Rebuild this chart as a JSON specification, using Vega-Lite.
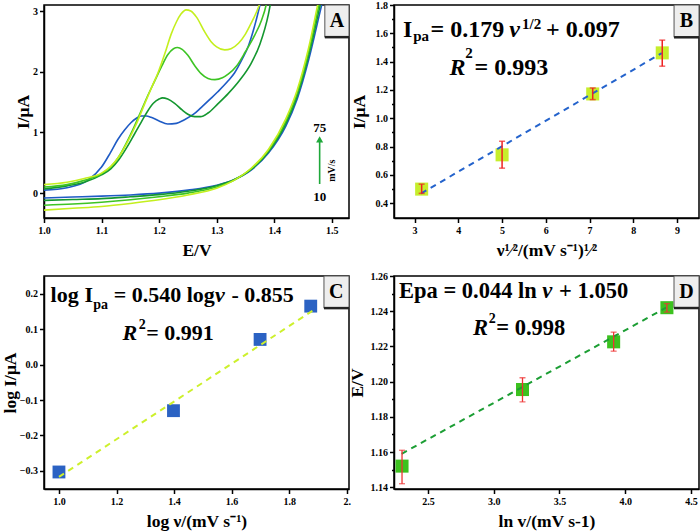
{
  "$schema": "https://vega.github.io/schema/vega-lite/v6.json",
  "background": "white",
  "padding": {"left": 0, "top": -1, "right": 0, "bottom": 0},
  "columns": 2,
  "bounds": "flush",
  "spacing": {"row": 58, "column": 45},
  "config": {
    "font": "Liberation Serif",
    "view": {"stroke": "#000", "strokeWidth": 1.5},
    "axis": {"labelFont": "Liberation Serif", "labelFontWeight": "bold", "labelFontSize": 10, "labelColor": "#000", "titleFont": "Liberation Serif", "titleFontWeight": "bold", "titleFontSize": 17.5, "titleColor": "#000", "domainColor": "#000", "domainWidth": 1.5, "tickColor": "#000", "tickWidth": 1.5, "tickSize": 4.5, "grid": false, "labelPadding": 2, "labelFlush": false, "labelOverlap": false},
    "axisX": {"titlePadding": 6, "labelPadding": 3},
    "text": {"font": "Liberation Serif", "fontWeight": "bold", "color": "#000"}
  },
  "datasets": {
    "cv": [
      {"rate":"10","branch":"f","x":1.0,"y":0.05},{"rate":"10","branch":"f","x":1.04,"y":0.09},{"rate":"10","branch":"f","x":1.076,"y":0.21},{"rate":"10","branch":"f","x":1.1,"y":0.43},{"rate":"10","branch":"f","x":1.115,"y":0.66},{"rate":"10","branch":"f","x":1.128,"y":0.88},{"rate":"10","branch":"f","x":1.14,"y":1.04},{"rate":"10","branch":"f","x":1.151,"y":1.16},{"rate":"10","branch":"f","x":1.16,"y":1.23},{"rate":"10","branch":"f","x":1.169,"y":1.27},{"rate":"10","branch":"f","x":1.178,"y":1.27},{"rate":"10","branch":"f","x":1.186,"y":1.25},{"rate":"10","branch":"f","x":1.2,"y":1.19},{"rate":"10","branch":"f","x":1.215,"y":1.14},{"rate":"10","branch":"f","x":1.23,"y":1.15},{"rate":"10","branch":"f","x":1.244,"y":1.21},{"rate":"10","branch":"f","x":1.26,"y":1.3},{"rate":"10","branch":"f","x":1.273,"y":1.41},{"rate":"10","branch":"f","x":1.29,"y":1.56},{"rate":"10","branch":"f","x":1.302,"y":1.67},{"rate":"10","branch":"f","x":1.32,"y":1.85},{"rate":"10","branch":"f","x":1.331,"y":1.98},{"rate":"10","branch":"f","x":1.345,"y":2.22},{"rate":"10","branch":"f","x":1.355,"y":2.42},{"rate":"10","branch":"f","x":1.365,"y":2.72},{"rate":"10","branch":"f","x":1.374,"y":3.05},{"rate":"10","branch":"f","x":1.38,"y":3.3},
      {"rate":"25","branch":"f","x":1.0,"y":0.07},{"rate":"25","branch":"f","x":1.04,"y":0.12},{"rate":"25","branch":"f","x":1.07,"y":0.18},{"rate":"25","branch":"f","x":1.1,"y":0.3},{"rate":"25","branch":"f","x":1.116,"y":0.4},{"rate":"25","branch":"f","x":1.13,"y":0.55},{"rate":"25","branch":"f","x":1.145,"y":0.77},{"rate":"25","branch":"f","x":1.157,"y":0.97},{"rate":"25","branch":"f","x":1.169,"y":1.17},{"rate":"25","branch":"f","x":1.18,"y":1.35},{"rate":"25","branch":"f","x":1.19,"y":1.48},{"rate":"25","branch":"f","x":1.2,"y":1.55},{"rate":"25","branch":"f","x":1.206,"y":1.57},{"rate":"25","branch":"f","x":1.215,"y":1.55},{"rate":"25","branch":"f","x":1.227,"y":1.48},{"rate":"25","branch":"f","x":1.24,"y":1.37},{"rate":"25","branch":"f","x":1.25,"y":1.3},{"rate":"25","branch":"f","x":1.262,"y":1.26},{"rate":"25","branch":"f","x":1.272,"y":1.26},{"rate":"25","branch":"f","x":1.285,"y":1.32},{"rate":"25","branch":"f","x":1.302,"y":1.47},{"rate":"25","branch":"f","x":1.32,"y":1.64},{"rate":"25","branch":"f","x":1.34,"y":1.86},{"rate":"25","branch":"f","x":1.36,"y":2.14},{"rate":"25","branch":"f","x":1.375,"y":2.45},{"rate":"25","branch":"f","x":1.39,"y":2.95},{"rate":"25","branch":"f","x":1.395,"y":3.2},
      {"rate":"50","branch":"f","x":1.0,"y":0.1},{"rate":"50","branch":"f","x":1.04,"y":0.14},{"rate":"50","branch":"f","x":1.07,"y":0.21},{"rate":"50","branch":"f","x":1.1,"y":0.32},{"rate":"50","branch":"f","x":1.116,"y":0.43},{"rate":"50","branch":"f","x":1.13,"y":0.6},{"rate":"50","branch":"f","x":1.145,"y":0.86},{"rate":"50","branch":"f","x":1.157,"y":1.1},{"rate":"50","branch":"f","x":1.169,"y":1.36},{"rate":"50","branch":"f","x":1.18,"y":1.6},{"rate":"50","branch":"f","x":1.192,"y":1.84},{"rate":"50","branch":"f","x":1.205,"y":2.1},{"rate":"50","branch":"f","x":1.215,"y":2.28},{"rate":"50","branch":"f","x":1.225,"y":2.38},{"rate":"50","branch":"f","x":1.232,"y":2.4},{"rate":"50","branch":"f","x":1.24,"y":2.37},{"rate":"50","branch":"f","x":1.25,"y":2.27},{"rate":"50","branch":"f","x":1.262,"y":2.1},{"rate":"50","branch":"f","x":1.273,"y":1.97},{"rate":"50","branch":"f","x":1.285,"y":1.89},{"rate":"50","branch":"f","x":1.297,"y":1.87},{"rate":"50","branch":"f","x":1.31,"y":1.9},{"rate":"50","branch":"f","x":1.32,"y":1.96},{"rate":"50","branch":"f","x":1.335,"y":2.1},{"rate":"50","branch":"f","x":1.35,"y":2.33},{"rate":"50","branch":"f","x":1.366,"y":2.6},{"rate":"50","branch":"f","x":1.378,"y":2.85},{"rate":"50","branch":"f","x":1.386,"y":3.1},{"rate":"50","branch":"f","x":1.39,"y":3.3},
      {"rate":"75","branch":"f","x":1.0,"y":0.14},{"rate":"75","branch":"f","x":1.04,"y":0.18},{"rate":"75","branch":"f","x":1.07,"y":0.24},{"rate":"75","branch":"f","x":1.1,"y":0.33},{"rate":"75","branch":"f","x":1.116,"y":0.44},{"rate":"75","branch":"f","x":1.13,"y":0.6},{"rate":"75","branch":"f","x":1.145,"y":0.84},{"rate":"75","branch":"f","x":1.16,"y":1.13},{"rate":"75","branch":"f","x":1.174,"y":1.45},{"rate":"75","branch":"f","x":1.186,"y":1.72},{"rate":"75","branch":"f","x":1.198,"y":1.98},{"rate":"75","branch":"f","x":1.21,"y":2.3},{"rate":"75","branch":"f","x":1.221,"y":2.62},{"rate":"75","branch":"f","x":1.23,"y":2.82},{"rate":"75","branch":"f","x":1.238,"y":2.95},{"rate":"75","branch":"f","x":1.247,"y":3.02},{"rate":"75","branch":"f","x":1.255,"y":3.0},{"rate":"75","branch":"f","x":1.265,"y":2.9},{"rate":"75","branch":"f","x":1.279,"y":2.66},{"rate":"75","branch":"f","x":1.29,"y":2.5},{"rate":"75","branch":"f","x":1.3,"y":2.41},{"rate":"75","branch":"f","x":1.314,"y":2.36},{"rate":"75","branch":"f","x":1.325,"y":2.38},{"rate":"75","branch":"f","x":1.338,"y":2.47},{"rate":"75","branch":"f","x":1.35,"y":2.62},{"rate":"75","branch":"f","x":1.36,"y":2.8},{"rate":"75","branch":"f","x":1.37,"y":3.0},{"rate":"75","branch":"f","x":1.376,"y":3.15},
      {"rate":"10","branch":"r","x":1.0,"y":-0.08},{"rate":"10","branch":"r","x":1.05,"y":-0.065},{"rate":"10","branch":"r","x":1.1,"y":-0.05},{"rate":"10","branch":"r","x":1.15,"y":-0.03},{"rate":"10","branch":"r","x":1.2,"y":0.0},{"rate":"10","branch":"r","x":1.25,"y":0.05},{"rate":"10","branch":"r","x":1.3,"y":0.13},{"rate":"10","branch":"r","x":1.33,"y":0.22},{"rate":"10","branch":"r","x":1.36,"y":0.38},{"rate":"10","branch":"r","x":1.39,"y":0.66},{"rate":"10","branch":"r","x":1.42,"y":1.1},{"rate":"10","branch":"r","x":1.44,"y":1.55},{"rate":"10","branch":"r","x":1.46,"y":2.2},{"rate":"10","branch":"r","x":1.48,"y":3.0},{"rate":"10","branch":"r","x":1.5,"y":3.8},
      {"rate":"25","branch":"r","x":1.0,"y":-0.12},{"rate":"25","branch":"r","x":1.05,"y":-0.105},{"rate":"25","branch":"r","x":1.1,"y":-0.09},{"rate":"25","branch":"r","x":1.15,"y":-0.06},{"rate":"25","branch":"r","x":1.2,"y":-0.025},{"rate":"25","branch":"r","x":1.25,"y":0.03},{"rate":"25","branch":"r","x":1.3,"y":0.12},{"rate":"25","branch":"r","x":1.33,"y":0.22},{"rate":"25","branch":"r","x":1.36,"y":0.39},{"rate":"25","branch":"r","x":1.39,"y":0.68},{"rate":"25","branch":"r","x":1.42,"y":1.14},{"rate":"25","branch":"r","x":1.44,"y":1.6},{"rate":"25","branch":"r","x":1.46,"y":2.27},{"rate":"25","branch":"r","x":1.48,"y":3.1},{"rate":"25","branch":"r","x":1.5,"y":3.9},
      {"rate":"50","branch":"r","x":1.0,"y":-0.2},{"rate":"50","branch":"r","x":1.05,"y":-0.18},{"rate":"50","branch":"r","x":1.1,"y":-0.15},{"rate":"50","branch":"r","x":1.15,"y":-0.11},{"rate":"50","branch":"r","x":1.2,"y":-0.06},{"rate":"50","branch":"r","x":1.25,"y":0.0},{"rate":"50","branch":"r","x":1.3,"y":0.1},{"rate":"50","branch":"r","x":1.33,"y":0.21},{"rate":"50","branch":"r","x":1.36,"y":0.4},{"rate":"50","branch":"r","x":1.39,"y":0.7},{"rate":"50","branch":"r","x":1.42,"y":1.18},{"rate":"50","branch":"r","x":1.44,"y":1.65},{"rate":"50","branch":"r","x":1.46,"y":2.33},{"rate":"50","branch":"r","x":1.48,"y":3.2},{"rate":"50","branch":"r","x":1.5,"y":4.0},
      {"rate":"75","branch":"r","x":1.0,"y":-0.28},{"rate":"75","branch":"r","x":1.05,"y":-0.25},{"rate":"75","branch":"r","x":1.1,"y":-0.22},{"rate":"75","branch":"r","x":1.15,"y":-0.17},{"rate":"75","branch":"r","x":1.2,"y":-0.11},{"rate":"75","branch":"r","x":1.25,"y":-0.03},{"rate":"75","branch":"r","x":1.3,"y":0.08},{"rate":"75","branch":"r","x":1.33,"y":0.21},{"rate":"75","branch":"r","x":1.36,"y":0.41},{"rate":"75","branch":"r","x":1.39,"y":0.72},{"rate":"75","branch":"r","x":1.42,"y":1.22},{"rate":"75","branch":"r","x":1.44,"y":1.7},{"rate":"75","branch":"r","x":1.46,"y":2.4},{"rate":"75","branch":"r","x":1.48,"y":3.3},{"rate":"75","branch":"r","x":1.5,"y":4.1}
    ],
    "bpts": [
      {"x":3.162,"y":0.5,"lo":0.47,"hi":0.535},
      {"x":5.0,"y":0.742,"lo":0.648,"hi":0.838},
      {"x":7.071,"y":1.172,"lo":1.132,"hi":1.214},
      {"x":8.66,"y":1.462,"lo":1.368,"hi":1.552}
    ],
    "dpts": [
      {"x":2.303,"y":1.152,"lo":1.142,"hi":1.161},
      {"x":3.219,"y":1.1955,"lo":1.1885,"hi":1.2022},
      {"x":3.912,"y":1.2226,"lo":1.2173,"hi":1.2281},
      {"x":4.317,"y":1.242,"lo":1.2395,"hi":1.2443}
    ]
  },
  "concat": [
    {
      "width": 305, "height": 213,
      "layer": [
        {
          "data": {"name": "cv"},
          "mark": {"type": "line", "strokeWidth": 1.6, "clip": true, "interpolate": "monotone"},
          "encoding": {
            "x": {"field": "x", "type": "quantitative", "scale": {"domain": [1.0, 1.53], "nice": false, "zero": false},
                  "axis": {"title": "E/V", "values": [1.0,1.05,1.1,1.15,1.2,1.25,1.3,1.35,1.4,1.45,1.5], "format": ".1f", "labelOverlap": false,
                           "labelExpr": "abs(datum.value*10-round(datum.value*10))<1e-6 ? datum.label : ''",
                           "tickSize": {"condition": {"test": "abs(datum.value*10-round(datum.value*10))<1e-6", "value": 4.5}, "value": 2.5}}},
            "y": {"field": "y", "type": "quantitative", "scale": {"domain": [-0.41, 3.1], "nice": false, "zero": false},
                  "axis": {"title": "I/μA", "values": [0,0.5,1,1.5,2,2.5,3], "format": ".0f", "labelOverlap": false,
                           "labelExpr": "abs(datum.value-round(datum.value))<1e-6 ? datum.label : ''",
                           "tickSize": {"condition": {"test": "abs(datum.value-round(datum.value))<1e-6", "value": 4.5}, "value": 2.5},
                           "minExtent": 10, "maxExtent": 10, "titlePadding": 1.5}},
            "color": {"field": "rate", "type": "nominal", "scale": {"domain": ["10","25","50","75"], "range": ["#1f5bc5","#14972f","#3dc424","#c4ef1e"]}, "legend": null},
            "detail": {"field": "branch"}
          }
        },
        {
          "data": {"values": [{"x": 1.479, "y": 0.15, "y2": 0.86}]},
          "mark": {"type": "rule", "color": "#1fa83a", "strokeWidth": 1.6},
          "encoding": {"x": {"field": "x", "type": "quantitative"}, "y": {"field": "y", "type": "quantitative"}, "y2": {"field": "y2"}}
        },
        {
          "data": {"values": [{"x": 1.479, "y": 0.885}]},
          "mark": {"type": "point", "shape": "triangle-up", "size": 50, "filled": true, "color": "#1fa83a", "opacity": 1},
          "encoding": {"x": {"field": "x", "type": "quantitative"}, "y": {"field": "y", "type": "quantitative"}}
        },
        {
          "data": {"values": [{"x": 1.479, "y": 1.08, "t": "75"}, {"x": 1.479, "y": -0.06, "t": "10"}]},
          "mark": {"type": "text", "fontSize": 13, "align": "center", "baseline": "middle"},
          "encoding": {"x": {"field": "x", "type": "quantitative"}, "y": {"field": "y", "type": "quantitative"}, "text": {"field": "t"}}
        },
        {
          "data": {"values": [{"x": 1.5, "y": 0.37, "t": "mV/s"}]},
          "mark": {"type": "text", "fontSize": 10, "align": "center", "baseline": "middle", "angle": 270},
          "encoding": {"x": {"field": "x", "type": "quantitative"}, "y": {"field": "y", "type": "quantitative"}, "text": {"field": "t"}}
        },
        {
          "data": {"values": [{"x": 1.488, "x2": 1.53, "y": 2.57, "y2": 3.1}]},
          "mark": {"type": "rect", "fill": "#eeeeee", "stroke": "#555", "strokeWidth": 1},
          "encoding": {"x": {"field": "x", "type": "quantitative"}, "x2": {"field": "x2"}, "y": {"field": "y", "type": "quantitative"}, "y2": {"field": "y2"}}
        },
        {
          "data": {"values": [{"x": 1.488, "x2": 1.53, "y": 2.57}]},
          "mark": {"type": "rule", "color": "#222", "strokeWidth": 2.5},
          "encoding": {"x": {"field": "x", "type": "quantitative"}, "x2": {"field": "x2"}, "y": {"field": "y", "type": "quantitative"}}
        },
        {
          "data": {"values": [{"x": 1.509, "y": 2.835, "t": "A"}]},
          "mark": {"type": "text", "fontSize": 20, "align": "center", "baseline": "middle"},
          "encoding": {"x": {"field": "x", "type": "quantitative"}, "y": {"field": "y", "type": "quantitative"}, "text": {"field": "t"}}
        }
      ]
    },
    {
      "width": 305, "height": 213,
      "resolve": {"axis": {"y": "independent"}},
      "layer": [
        {
          "data": {"name": "bpts"},
          "mark": {"type": "square", "size": 170, "filled": true, "color": "#c6ee2c", "opacity": 1},
          "encoding": {
            "x": {"field": "x", "type": "quantitative", "scale": {"domain": [2.53, 9.5], "nice": false, "zero": false},
                  "axis": {"title": "ν¹⁄²/(mV s⁻¹)¹⁄²", "values": [3,3.5,4,4.5,5,5.5,6,6.5,7,7.5,8,8.5,9], "format": ".0f", "labelOverlap": false,
                           "labelExpr": "abs(datum.value-round(datum.value))<1e-6 ? datum.label : ''",
                           "tickSize": {"condition": {"test": "abs(datum.value-round(datum.value))<1e-6", "value": 4.5}, "value": 2.5}}},
            "y": {"field": "y", "type": "quantitative", "scale": {"domain": [0.296, 1.8], "nice": false, "zero": false},
                  "axis": {"title": "I/μA", "orient": "left", "values": [0.4,0.6,0.8,1.0,1.2,1.4,1.6,1.8], "format": ".1f", "labelOverlap": false,
                           "minExtent": 19, "maxExtent": 19, "titlePadding": 7}}
          }
        },
        {
          "data": {"values": [{"x": 3.15, "y": 0.47}, {"x": 8.65, "y": 1.46}]},
          "mark": {"type": "line", "color": "#2463cc", "strokeWidth": 2, "strokeDash": [6, 5]},
          "encoding": {"x": {"field": "x", "type": "quantitative"},
                       "y": {"field": "y", "type": "quantitative", "axis": {"orient": "left", "values": [0.5,0.7,0.9,1.1,1.3,1.5,1.7], "labels": false, "domain": false, "tickSize": 2.5, "title": null, "minExtent": 0}}}
        },
        {
          "data": {"name": "bpts"},
          "mark": {"type": "rule", "color": "#ee2222", "strokeWidth": 1.5},
          "encoding": {"x": {"field": "x", "type": "quantitative"}, "y": {"field": "lo", "type": "quantitative", "axis": null}, "y2": {"field": "hi"}}
        },
        {
          "data": {"name": "bpts"},
          "mark": {"type": "tick", "orient": "horizontal", "color": "#ee2222", "size": 6, "thickness": 1.5},
          "encoding": {"x": {"field": "x", "type": "quantitative"}, "y": {"field": "lo", "type": "quantitative", "axis": null}}
        },
        {
          "data": {"name": "bpts"},
          "mark": {"type": "tick", "orient": "horizontal", "color": "#ee2222", "size": 6, "thickness": 1.5},
          "encoding": {"x": {"field": "x", "type": "quantitative"}, "y": {"field": "hi", "type": "quantitative", "axis": null}}
        },
        {
          "data": {"values": [{"x": 8.93, "x2": 9.5, "y": 1.572, "y2": 1.8}]},
          "mark": {"type": "rect", "fill": "#eeeeee", "stroke": "#555", "strokeWidth": 1},
          "encoding": {"x": {"field": "x", "type": "quantitative"}, "x2": {"field": "x2"}, "y": {"field": "y", "type": "quantitative", "axis": null}, "y2": {"field": "y2"}}
        },
        {
          "data": {"values": [{"x": 8.93, "x2": 9.5, "y": 1.572}]},
          "mark": {"type": "rule", "color": "#222", "strokeWidth": 2.5},
          "encoding": {"x": {"field": "x", "type": "quantitative"}, "x2": {"field": "x2"}, "y": {"field": "y", "type": "quantitative", "axis": null}}
        },
        {
          "data": {"values": [{"x": 9.215, "y": 1.689, "t": "B"}]},
          "mark": {"type": "text", "fontSize": 20, "align": "center", "baseline": "middle"},
          "encoding": {"x": {"field": "x", "type": "quantitative"}, "y": {"field": "y", "type": "quantitative", "axis": null}, "text": {"field": "t"}}
        },
        {
          "data": {"values": [{"x": 2.735, "y": 1.572, "t": "I"}, {"x": 3.365, "y": 1.572, "t": "= 0.179"}, {"x": 6.005, "y": 1.572, "t": "+ 0.097"}, {"x": 4.37, "y": 1.308, "t": "= 0.993"}]},
          "mark": {"type": "text", "fontSize": 24, "align": "left", "baseline": "alphabetic"},
          "encoding": {"x": {"field": "x", "type": "quantitative"}, "y": {"field": "y", "type": "quantitative", "axis": null}, "text": {"field": "t"}}
        },
        {
          "data": {"values": [{"x": 5.162, "y": 1.572, "t": "ν"}, {"x": 3.799, "y": 1.308, "t": "R"}]},
          "mark": {"type": "text", "fontSize": 24, "fontStyle": "italic", "align": "left", "baseline": "alphabetic"},
          "encoding": {"x": {"field": "x", "type": "quantitative"}, "y": {"field": "y", "type": "quantitative", "axis": null}, "text": {"field": "t"}}
        },
        {
          "data": {"values": [{"x": 2.97, "y": 1.544, "t": "pa"}, {"x": 5.457, "y": 1.629, "t": "1/2"}, {"x": 4.158, "y": 1.423, "t": "2"}]},
          "mark": {"type": "text", "fontSize": 15, "align": "left", "baseline": "alphabetic"},
          "encoding": {"x": {"field": "x", "type": "quantitative"}, "y": {"field": "y", "type": "quantitative", "axis": null}, "text": {"field": "t"}}
        }
      ]
    },
    {
      "width": 305, "height": 213,
      "layer": [
        {
          "data": {"values": [{"x": 1.0, "y": -0.303}, {"x": 1.398, "y": -0.13}, {"x": 1.699, "y": 0.071}, {"x": 1.875, "y": 0.165}]},
          "mark": {"type": "square", "size": 165, "filled": true, "color": "#2b62c3", "opacity": 1},
          "encoding": {
            "x": {"field": "x", "type": "quantitative", "scale": {"domain": [0.948, 2.008], "nice": false, "zero": false},
                  "axis": {"title": "log ν/(mV s⁻¹)", "values": [1.0,1.1,1.2,1.3,1.4,1.5,1.6,1.7,1.8,1.9,2.0], "format": ".1f", "labelOverlap": false,
                           "labelExpr": "datum.value > 1.99 ? '2.' : (abs(datum.value*5-round(datum.value*5))<1e-6 ? datum.label : '')",
                           "tickSize": {"condition": {"test": "abs(datum.value*5-round(datum.value*5))<1e-6", "value": 4.5}, "value": 2.5}}},
            "y": {"field": "y", "type": "quantitative", "scale": {"domain": [-0.351, 0.25], "nice": false, "zero": false},
                  "axis": {"title": "log I/μA", "values": [-0.3,-0.25,-0.2,-0.15,-0.1,-0.05,0,0.05,0.1,0.15,0.2], "format": ".1f", "labelOverlap": false,
                           "labelExpr": "abs(datum.value*10-round(datum.value*10))<1e-6 ? datum.label : ''",
                           "tickSize": {"condition": {"test": "abs(datum.value*10-round(datum.value*10))<1e-6", "value": 4.5}, "value": 2.5},
                           "minExtent": 25, "maxExtent": 25, "titlePadding": 0}}
          }
        },
        {
          "data": {"values": [{"x": 1.0, "y": -0.317}, {"x": 1.887, "y": 0.155}]},
          "mark": {"type": "line", "color": "#cdf02c", "strokeWidth": 2, "strokeDash": [6, 5]},
          "encoding": {"x": {"field": "x", "type": "quantitative"}, "y": {"field": "y", "type": "quantitative"}}
        },
        {
          "data": {"values": [{"x": 1.921, "x2": 2.008, "y": 0.1594, "y2": 0.25}]},
          "mark": {"type": "rect", "fill": "#eeeeee", "stroke": "#555", "strokeWidth": 1},
          "encoding": {"x": {"field": "x", "type": "quantitative"}, "x2": {"field": "x2"}, "y": {"field": "y", "type": "quantitative"}, "y2": {"field": "y2"}}
        },
        {
          "data": {"values": [{"x": 1.921, "x2": 2.008, "y": 0.1594}]},
          "mark": {"type": "rule", "color": "#222", "strokeWidth": 2.5},
          "encoding": {"x": {"field": "x", "type": "quantitative"}, "x2": {"field": "x2"}, "y": {"field": "y", "type": "quantitative"}}
        },
        {
          "data": {"values": [{"x": 1.964, "y": 0.2048, "t": "C"}]},
          "mark": {"type": "text", "fontSize": 20, "align": "center", "baseline": "middle"},
          "encoding": {"x": {"field": "x", "type": "quantitative"}, "y": {"field": "y", "type": "quantitative"}, "text": {"field": "t"}}
        },
        {
          "data": {"values": [{"x": 0.971, "y": 0.1765, "t": "log"}, {"x": 1.089, "y": 0.1765, "t": "I"}, {"x": 1.19, "y": 0.1765, "t": "= 0.540 log"}, {"x": 1.5997, "y": 0.1765, "t": "- 0.855"}, {"x": 1.303, "y": 0.0707, "t": "= 0.991"}]},
          "mark": {"type": "text", "fontSize": 22, "align": "left", "baseline": "alphabetic"},
          "encoding": {"x": {"field": "x", "type": "quantitative"}, "y": {"field": "y", "type": "quantitative"}, "text": {"field": "t"}}
        },
        {
          "data": {"values": [{"x": 1.542, "y": 0.1765, "t": "ν"}, {"x": 1.2205, "y": 0.0707, "t": "R"}]},
          "mark": {"type": "text", "fontSize": 22, "fontStyle": "italic", "align": "left", "baseline": "alphabetic"},
          "encoding": {"x": {"field": "x", "type": "quantitative"}, "y": {"field": "y", "type": "quantitative"}, "text": {"field": "t"}}
        },
        {
          "data": {"values": [{"x": 1.119, "y": 0.1558, "t": "pa"}, {"x": 1.2776, "y": 0.1, "t": "2"}]},
          "mark": {"type": "text", "fontSize": 14, "align": "left", "baseline": "alphabetic"},
          "encoding": {"x": {"field": "x", "type": "quantitative"}, "y": {"field": "y", "type": "quantitative"}, "text": {"field": "t"}}
        }
      ]
    },
    {
      "width": 305, "height": 213,
      "resolve": {"axis": {"y": "independent"}},
      "layer": [
        {
          "data": {"name": "dpts"},
          "mark": {"type": "square", "size": 170, "filled": true, "color": "#3cc21f", "opacity": 1},
          "encoding": {
            "x": {"field": "x", "type": "quantitative", "scale": {"domain": [2.242, 4.561], "nice": false, "zero": false},
                  "axis": {"title": "ln v/(mV s-1)", "values": [2.5,2.75,3.0,3.25,3.5,3.75,4.0,4.25,4.5], "format": ".1f", "labelOverlap": false,
                           "labelExpr": "abs(datum.value*2-round(datum.value*2))<1e-6 ? datum.label : ''",
                           "tickSize": {"condition": {"test": "abs(datum.value*2-round(datum.value*2))<1e-6", "value": 4.5}, "value": 2.5}}},
            "y": {"field": "y", "type": "quantitative", "scale": {"domain": [1.139, 1.26], "nice": false, "zero": false},
                  "axis": {"title": "E/V", "orient": "left", "values": [1.14,1.16,1.18,1.2,1.22,1.24,1.26], "format": ".2f", "labelOverlap": false,
                           "minExtent": 24, "maxExtent": 24, "titlePadding": 4}}
          }
        },
        {
          "data": {"values": [{"x": 2.3, "y": 1.159}, {"x": 4.31, "y": 1.242}]},
          "mark": {"type": "line", "color": "#1c9e34", "strokeWidth": 2, "strokeDash": [6, 5]},
          "encoding": {"x": {"field": "x", "type": "quantitative"},
                       "y": {"field": "y", "type": "quantitative", "axis": {"orient": "left", "values": [1.15,1.17,1.19,1.21,1.23,1.25], "labels": false, "domain": false, "tickSize": 2.5, "title": null, "minExtent": 0}}}
        },
        {
          "data": {"name": "dpts"},
          "mark": {"type": "rule", "color": "#ee3333", "strokeWidth": 1.3},
          "encoding": {"x": {"field": "x", "type": "quantitative"}, "y": {"field": "lo", "type": "quantitative", "axis": null}, "y2": {"field": "hi"}}
        },
        {
          "data": {"name": "dpts"},
          "mark": {"type": "tick", "orient": "horizontal", "color": "#ee3333", "size": 6, "thickness": 1.3},
          "encoding": {"x": {"field": "x", "type": "quantitative"}, "y": {"field": "lo", "type": "quantitative", "axis": null}}
        },
        {
          "data": {"name": "dpts"},
          "mark": {"type": "tick", "orient": "horizontal", "color": "#ee3333", "size": 6, "thickness": 1.3},
          "encoding": {"x": {"field": "x", "type": "quantitative"}, "y": {"field": "hi", "type": "quantitative", "axis": null}}
        },
        {
          "data": {"values": [{"x": 4.371, "x2": 4.561, "y": 1.2418, "y2": 1.26}]},
          "mark": {"type": "rect", "fill": "#eeeeee", "stroke": "#555", "strokeWidth": 1},
          "encoding": {"x": {"field": "x", "type": "quantitative"}, "x2": {"field": "x2"}, "y": {"field": "y", "type": "quantitative", "axis": null}, "y2": {"field": "y2"}}
        },
        {
          "data": {"values": [{"x": 4.371, "x2": 4.561, "y": 1.2418}]},
          "mark": {"type": "rule", "color": "#222", "strokeWidth": 2.5},
          "encoding": {"x": {"field": "x", "type": "quantitative"}, "x2": {"field": "x2"}, "y": {"field": "y", "type": "quantitative", "axis": null}}
        },
        {
          "data": {"values": [{"x": 4.466, "y": 1.2509, "t": "D"}]},
          "mark": {"type": "text", "fontSize": 20, "align": "center", "baseline": "middle"},
          "encoding": {"x": {"field": "x", "type": "quantitative"}, "y": {"field": "y", "type": "quantitative", "axis": null}, "text": {"field": "t"}}
        },
        {
          "data": {"values": [{"x": 2.28, "y": 1.2477, "t": "Epa = 0.044 ln"}, {"x": 3.497, "y": 1.2477, "t": "+ 1.050"}, {"x": 3.019, "y": 1.2264, "t": "= 0.998"}]},
          "mark": {"type": "text", "fontSize": 22.5, "align": "left", "baseline": "alphabetic"},
          "encoding": {"x": {"field": "x", "type": "quantitative"}, "y": {"field": "y", "type": "quantitative", "axis": null}, "text": {"field": "t"}}
        },
        {
          "data": {"values": [{"x": 3.37, "y": 1.2477, "t": "ν"}, {"x": 2.842, "y": 1.2264, "t": "R"}]},
          "mark": {"type": "text", "fontSize": 22.5, "fontStyle": "italic", "align": "left", "baseline": "alphabetic"},
          "encoding": {"x": {"field": "x", "type": "quantitative"}, "y": {"field": "y", "type": "quantitative", "axis": null}, "text": {"field": "t"}}
        },
        {
          "data": {"values": [{"x": 2.962, "y": 1.2333, "t": "2"}]},
          "mark": {"type": "text", "fontSize": 14, "align": "left", "baseline": "alphabetic"},
          "encoding": {"x": {"field": "x", "type": "quantitative"}, "y": {"field": "y", "type": "quantitative", "axis": null}, "text": {"field": "t"}}
        }
      ]
    }
  ]
}
